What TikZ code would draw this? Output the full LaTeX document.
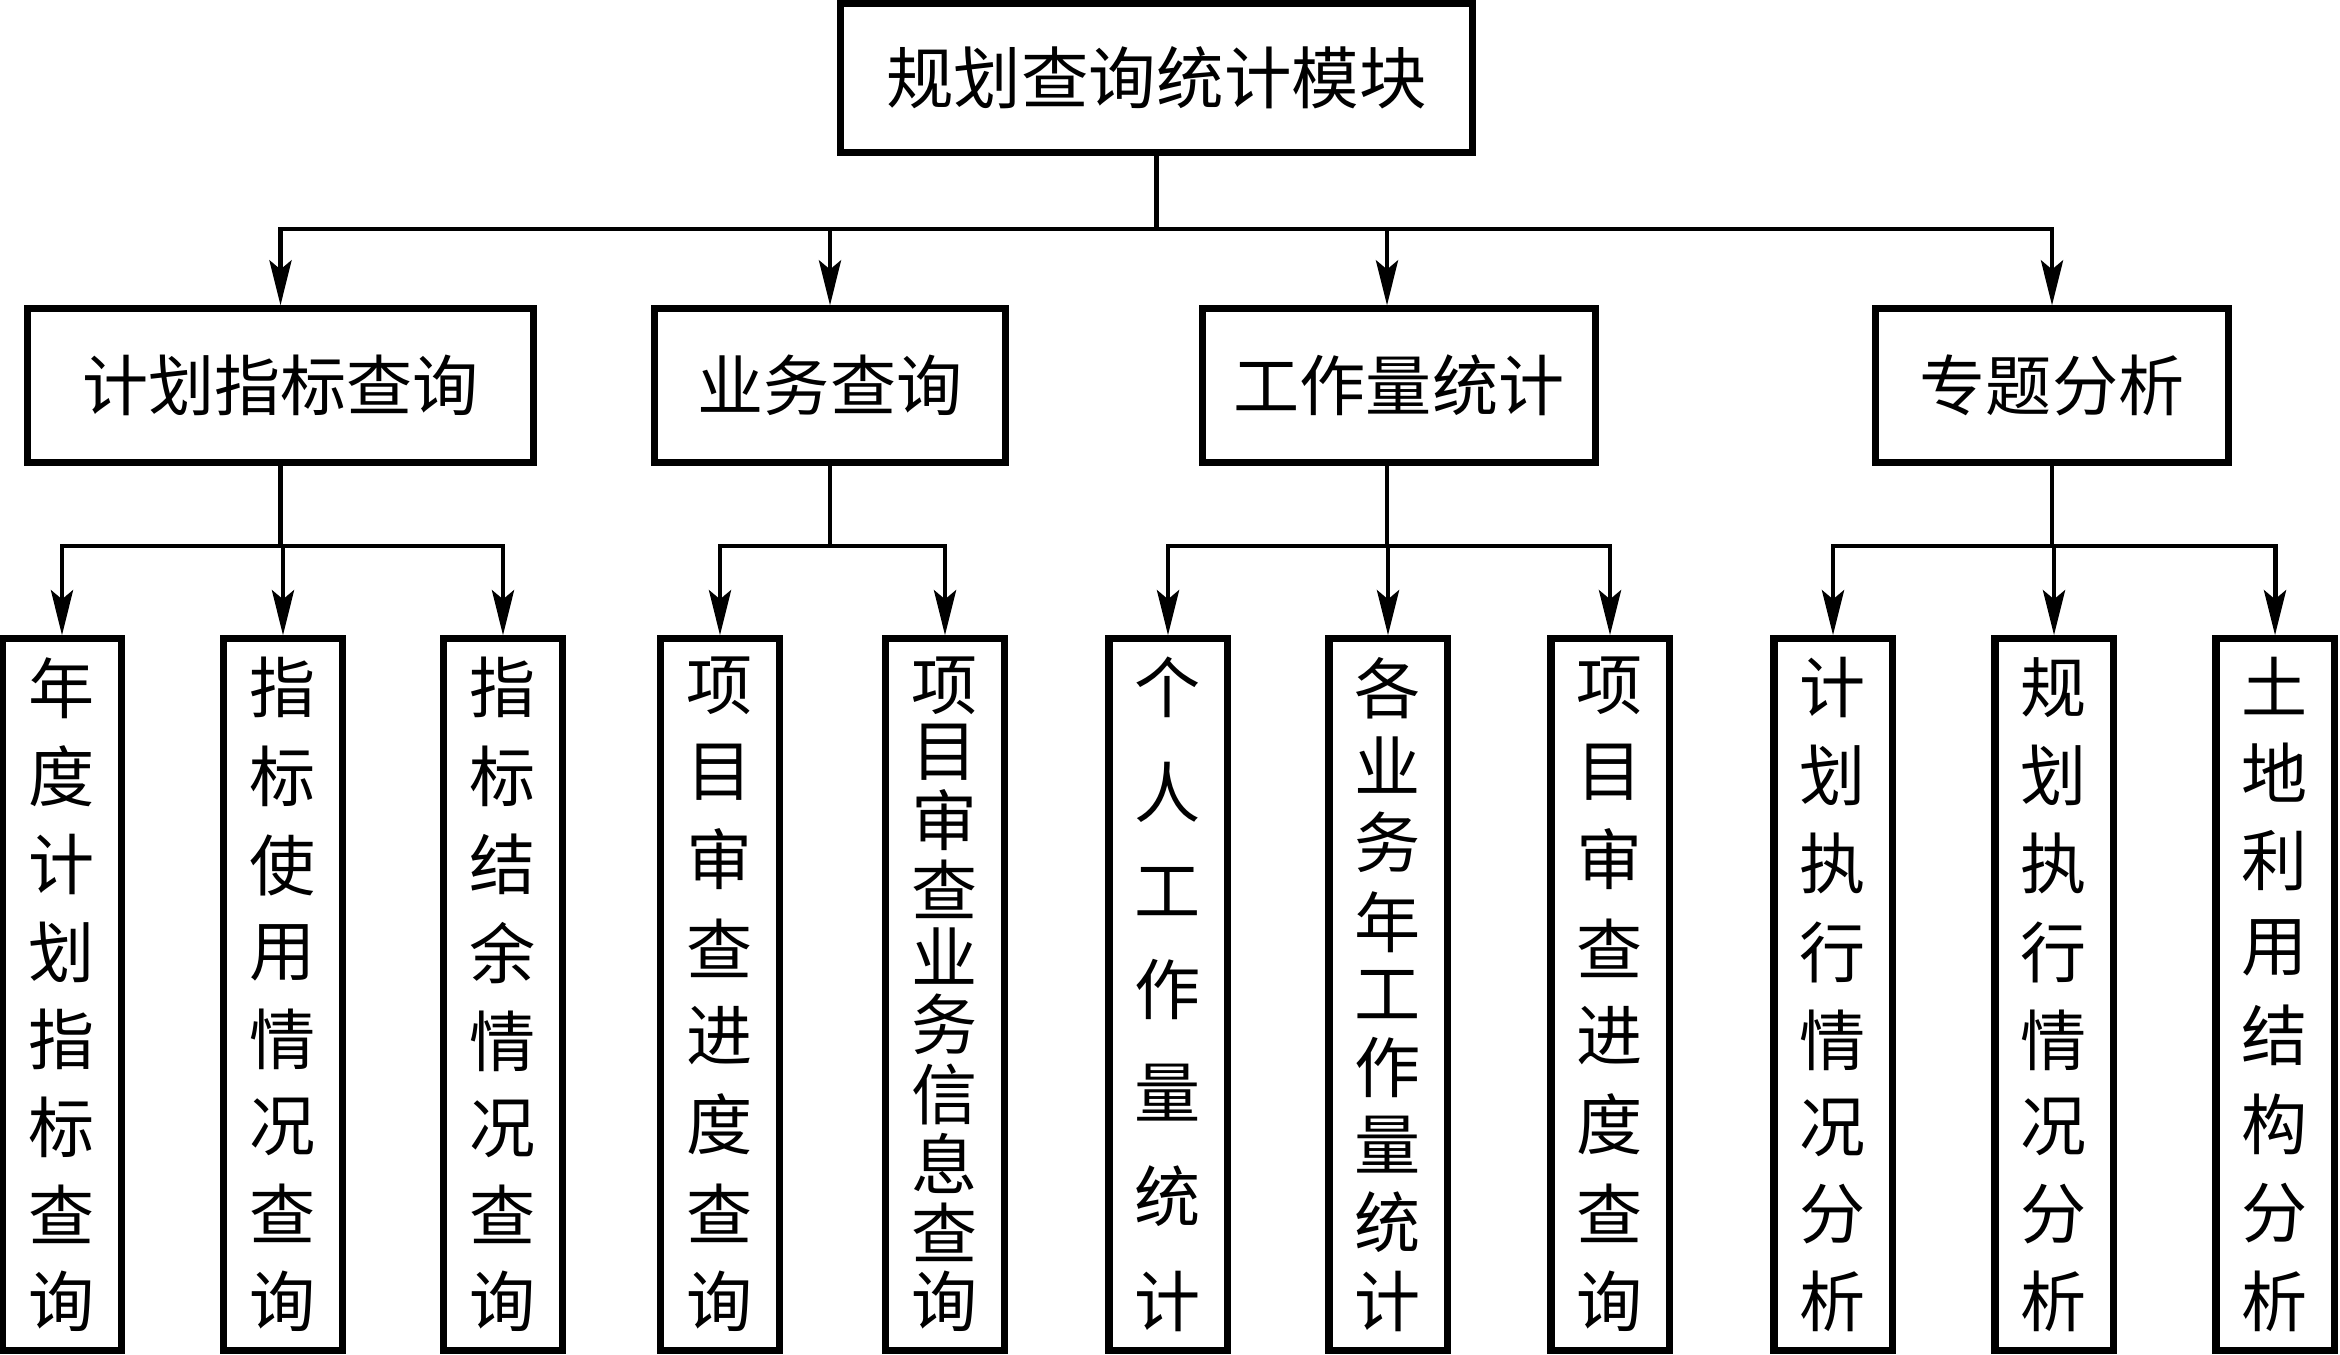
\documentclass[tikz,border=0pt]{standalone}
\usepackage{fontspec}
\setmainfont{Noto Sans CJK SC}
\usetikzlibrary{arrows.meta,calc}
\ExplSyntaxOn
\dim_new:N \l_my_vlen_dim
\dim_set:Nn \l_my_vlen_dim {6.69cm}
\NewDocumentCommand\vtext{m}{
  \seq_clear:N \l_tmpa_seq
  \tl_map_inline:nn {#1}{ \seq_put_right:Nn \l_tmpa_seq {\hbox_to_wd:nn{1em}{\hss ##1\hss}} }
  \vbox_to_ht:nn {\l_my_vlen_dim}{ \offinterlineskip \seq_use:Nn \l_tmpa_seq {\vfill} }
}
\ExplSyntaxOff
\begin{document}
\begin{tikzpicture}[x=0.01cm,y=-0.01cm,
  box/.style={draw,line width=2pt,inner sep=0pt,font=\fontsize{18.8pt}{20pt}\selectfont},
  topbox/.style={box,minimum width=6.31cm,minimum height=1.48cm,font=\fontsize{19.2pt}{21pt}\selectfont},
  midbox/.style={box,minimum height=1.53cm},
  leafbox/.style={box,minimum width=1.18cm,minimum height=7.11cm},
  conn/.style={line width=1.4pt,line cap=rect},
  arr/.style={line width=1.4pt,-{Stealth[length=4.5mm,width=2.2mm,inset=0.9mm]}},
]
\useasboundingbox (0,0) rectangle (2340,1354);
% top
\node[topbox] (top) at (1156.5,78) {规划查询统计模块};
% level 2
\node[midbox,minimum width=5.05cm] (a1) at (280.5,385.5) {计划指标查询};
\node[midbox,minimum width=3.50cm] (a2) at (830,385.5) {业务查询};
\node[midbox,minimum width=3.92cm] (a3) at (1399,385.5) {工作量统计};
\node[midbox,minimum width=3.52cm] (a4) at (2052,385.5) {专题分析};
% level 3
\node[leafbox] (c1) at (62,994.5) {\vtext{年度计划指标查询}};
\node[leafbox] (c2) at (283,994.5) {\vtext{指标使用情况查询}};
\node[leafbox] (c3) at (503,994.5) {\vtext{指标结余情况查询}};
\node[leafbox] (c4) at (720,994.5) {\vtext{项目审查进度查询}};
\node[leafbox] (c5) at (945,994.5) {\vtext{项目审查业务信息查询}};
\node[leafbox] (c6) at (1168,994.5) {\vtext{个人工作量统计}};
\node[leafbox] (c7) at (1388,994.5) {\vtext{各业务年工作量统计}};
\node[leafbox] (c8) at (1610,994.5) {\vtext{项目审查进度查询}};
\node[leafbox] (c9) at (1833,994.5) {\vtext{计划执行情况分析}};
\node[leafbox] (c10) at (2054,994.5) {\vtext{规划执行情况分析}};
\node[leafbox] (c11) at (2275,994.5) {\vtext{土地利用结构分析}};
% rails
\coordinate (r1) at (0,229);
\coordinate (r2) at (0,546);
\coordinate (a3t) at ([xshift=-0.12cm]a3.north);
\coordinate (a3b) at ([xshift=-0.12cm]a3.south);
% top connectors
\draw[conn] (top.south) -- (top.south |- r1);
\draw[conn] (a1.north |- r1) -- (a4.north |- r1);
\foreach \n in {a1,a2,a4} \draw[arr] (\n.north |- r1) -- (\n.north);
\draw[arr] (a3t |- r1) -- (a3t);
% group 1
\draw[conn] (a1.south) -- (a1.south |- r2);
\draw[conn] (c1.north |- r2) -- (c3.north |- r2);
% group 2
\draw[conn] (a2.south) -- (a2.south |- r2);
\draw[conn] (c4.north |- r2) -- (c5.north |- r2);
% group 3
\draw[conn] (a3b) -- (a3b |- r2);
\draw[conn] (c6.north |- r2) -- (c8.north |- r2);
% group 4
\draw[conn] (a4.south) -- (a4.south |- r2);
\draw[conn] (c9.north |- r2) -- (c11.north |- r2);
\foreach \n in {c1,c2,c3,c4,c5,c6,c7,c8,c9,c10,c11} \draw[arr] (\n.north |- r2) -- (\n.north);
\end{tikzpicture}
\end{document}
